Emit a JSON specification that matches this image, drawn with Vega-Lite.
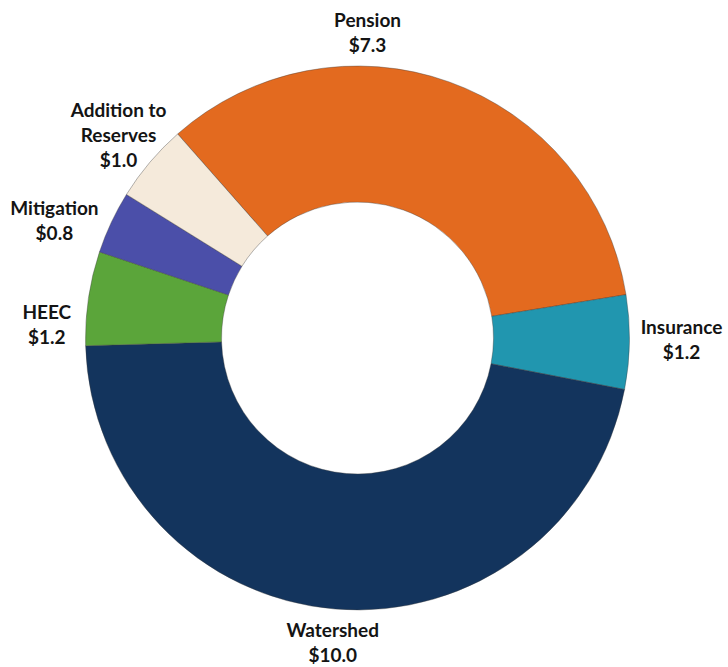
{
  "$schema": "https://vega.github.io/schema/vega-lite/v6.json",
  "autosize": {"type": "fit", "contains": "padding"},
  "width": 728,
  "height": 667,
  "padding": {"left": 0, "right": 12, "top": 8, "bottom": 0},
  "background": "white",
  "view": {"stroke": null},
  "config": {
    "text": {
      "font": "Lato",
      "fontSize": 19,
      "fontWeight": "bold",
      "lineHeight": 25,
      "lineBreak": "\n",
      "align": "center",
      "baseline": "alphabetic",
      "color": "#141414"
    }
  },
  "data": {
    "values": [
      {"category": "Pension", "value": 7.3, "rank": 1},
      {"category": "Insurance", "value": 1.2, "rank": 2},
      {"category": "Watershed", "value": 10.0, "rank": 3},
      {"category": "HEEC", "value": 1.2, "rank": 4},
      {"category": "Mitigation", "value": 0.8, "rank": 5},
      {"category": "Addition to Reserves", "value": 1.0, "rank": 6}
    ]
  },
  "transform": [
    {"calculate": "replace(datum.category, 'to ', 'to\\n') + '\\n$' + format(datum.value, '.1f')", "as": "label"}
  ],
  "encoding": {
    "theta": {
      "field": "value",
      "type": "quantitative",
      "stack": true,
      "scale": {"range": [-0.7226, 5.5606]}
    },
    "order": {"field": "rank", "type": "quantitative"}
  },
  "layer": [
    {
      "mark": {
        "type": "arc",
        "outerRadius": 272,
        "innerRadius": 136,
        "stroke": "#3a3a3a",
        "strokeWidth": 0.7,
        "strokeOpacity": 0.55
      },
      "encoding": {
        "color": {
          "field": "category",
          "type": "nominal",
          "legend": null,
          "scale": {
            "domain": ["Pension", "Insurance", "Watershed", "HEEC", "Mitigation", "Addition to Reserves"],
            "range": ["#E36A1F", "#2196AF", "#13345D", "#5BA53A", "#4B4FA9", "#F5EADB"]
          }
        }
      }
    },
    {
      "mark": {"type": "text", "radius": 306, "dy": -6},
      "encoding": {
        "text": {"condition": {"test": "datum.category === 'Watershed'", "field": "label"}, "value": ""}
      }
    },
    {
      "mark": {"type": "text", "radius": 305, "thetaOffset": -0.311, "dy": -6},
      "encoding": {
        "text": {"condition": {"test": "datum.category === 'Pension'", "field": "label"}, "value": ""}
      }
    },
    {
      "mark": {"type": "text", "radius": 324, "thetaOffset": -0.008, "dy": -6},
      "encoding": {
        "text": {"condition": {"test": "datum.category === 'Insurance'", "field": "label"}, "value": ""}
      }
    },
    {
      "mark": {"type": "text", "radius": 311, "thetaOffset": -0.104, "dy": -6},
      "encoding": {
        "text": {"condition": {"test": "datum.category === 'HEEC'", "field": "label"}, "value": ""}
      }
    },
    {
      "mark": {"type": "text", "radius": 325, "thetaOffset": -0.07, "dy": -6},
      "encoding": {
        "text": {"condition": {"test": "datum.category === 'Mitigation'", "field": "label"}, "value": ""}
      }
    },
    {
      "mark": {"type": "text", "radius": 313, "dy": -18.5},
      "encoding": {
        "text": {"condition": {"test": "datum.category === 'Addition to Reserves'", "field": "label"}, "value": ""}
      }
    }
  ]
}
